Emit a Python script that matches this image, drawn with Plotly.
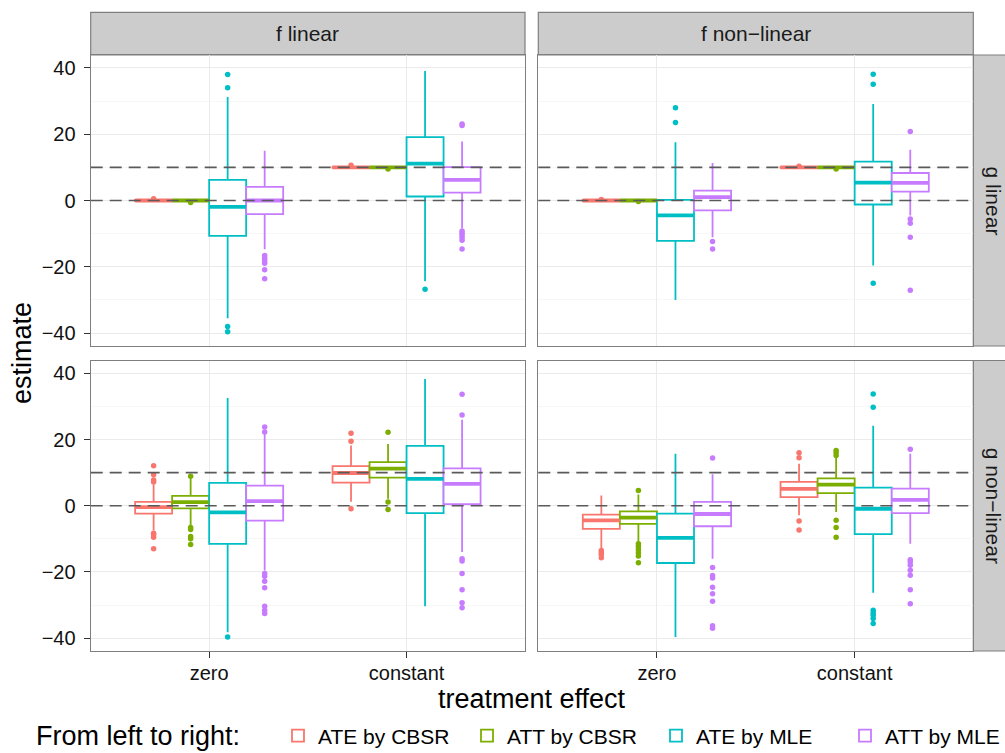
import plotly.graph_objects as go
from plotly.subplots import make_subplots

# ---- categories and labels -------------------------------------------------
EFFECTS = ["zero", "constant"]
F_LABELS = ["f linear", "f non\u2212linear"]
G_LABELS = ["g linear", "g non\u2212linear"]
ESTIMATORS = ["ATE by CBSR", "ATT by CBSR", "ATE by MLE", "ATT by MLE"]
COLORS = ["#F8766D", "#7CAE00", "#00BFC4", "#C77CFF"]
TRUE_VALUES = [0, 10]
LEGEND_TITLE = "From left to right:"

# Panels in row-major order:
#   0: g linear / f linear        1: g linear / f non-linear
#   2: g non-linear / f linear    3: g non-linear / f non-linear
# Each entry: [estimator][effect] with effect order [zero, constant]
Q1 = [
    [[-0.15, 9.85], [-0.15, 9.85], [-10.7, 1.2], [-4.1, 2.4]],
    [[-0.15, 9.85], [-0.15, 9.85], [-12.2, -1.2], [-3.0, 2.7]],
    [[-2.4, 7.0], [-0.8, 8.5], [-11.5, -2.2], [-4.5, 0.5]],
    [[-7.0, 2.6], [-5.5, 3.8], [-17.3, -8.6], [-6.2, -2.2]],
]
MEDIAN = [
    [[0.0, 10.0], [0.0, 10.0], [-1.9, 11.1], [0.0, 6.2]],
    [[0.0, 10.0], [0.0, 10.0], [-4.5, 5.4], [1.0, 5.3]],
    [[-0.4, 9.9], [1.1, 11.2], [-2.0, 8.1], [1.4, 6.6]],
    [[-4.4, 5.1], [-3.6, 6.4], [-9.7, -0.9], [-2.5, 1.8]],
]
Q3 = [
    [[0.15, 10.15], [0.15, 10.15], [6.2, 19.1], [4.1, 10.1]],
    [[0.15, 10.15], [0.15, 10.15], [0.2, 11.7], [3.0, 8.3]],
    [[1.2, 12.0], [3.0, 13.2], [6.9, 18.1], [6.1, 11.3]],
    [[-2.7, 7.2], [-1.7, 8.3], [-2.4, 5.5], [1.2, 5.2]],
]
WHISKER_LOW = [
    [[-0.4, 9.6], [-0.4, 9.6], [-35.5, -24.4], [-14.7, -8.4]],
    [[-0.4, 9.6], [-0.4, 9.6], [-30.0, -19.6], [-11.1, -4.5]],
    [[-7.5, 1.2], [-5.9, 2.1], [-38.2, -30.4], [-19.6, -14.0]],
    [[-13.0, -2.9], [-11.0, -1.9], [-39.7, -26.3], [-16.0, -11.5]],
]
WHISKER_HIGH = [
    [[0.4, 10.4], [0.4, 10.4], [31.2, 39.1], [15.0, 17.8]],
    [[0.4, 10.4], [0.4, 10.4], [17.6, 29.1], [11.3, 15.3]],
    [[6.4, 18.2], [8.4, 18.7], [32.6, 38.3], [21.8, 26.0]],
    [[3.1, 12.7], [3.4, 14.9], [15.7, 24.2], [9.5, 15.7]],
]
OUTLIERS = [
    [
        [[0.5], [10.6]],
        [[-0.6], [9.5]],
        [[38.0, 34.0, -38.0, -39.6], [-26.8]],
        [[-16.6, -17.4, -18.2, -18.9, -20.9, -23.6],
         [22.6, 23.1, -9.2, -9.8, -10.4, -11.2, -12.0, -14.6]],
    ],
    [
        [[0.3], [10.3]],
        [[-0.3], [9.5]],
        [[28.0, 23.5], [38.1, 35.1, -25.0]],
        [[-12.4, -14.6], [20.8, -5.6, -6.9, -11.1, -27.1]],
    ],
    [
        [[12.1, 9.4, 7.8, 7.2, -8.3, -8.8, -9.5, -13.0], [21.9, 19.5, -0.9]],
        [[8.9, -6.6, -7.2, -9.3, -10.0, -11.7], [22.2, 1.1, -1.1]],
        [[-39.7], []],
        [[23.8, 22.3, -20.5, -21.3, -22.8, -24.8, -30.4, -31.6, -32.6],
         [33.7, 27.4, -16.0, -16.7, -20.5, -25.4, -29.3, -30.8]],
    ],
    [
        [[-13.5, -14.1, -14.7, -15.7], [16.0, 14.5, -4.6, -7.3]],
        [[4.6, -11.5, -12.3, -13.2, -14.2, -15.2, -17.2],
         [16.7, 16.0, 15.2, -4.4, -6.6, -9.5]],
        [[], [33.8, 29.8, -31.6, -32.4, -33.1, -34.1, -35.6]],
        [[14.4, -18.7, -21.1, -21.8, -24.6, -26.6, -28.9, -36.3, -37.0],
         [17.1, -16.3, -17.0, -18.0, -19.5, -21.0, -25.4, -29.6]],
    ],
]

# ---- styling ----------------------------------------------------------------
FONT = "Liberation Sans, Arial, Helvetica, sans-serif"
BORDER = "#7F7F7F"
STRIP_FILL = "#CCCCCC"
DODGE = 0.75
BOX_W = DODGE / len(ESTIMATORS)
Y_RANGE = [-43.9, 43.9]

W, H = 1005, 753
X_DOMAINS = [[90.7 / W, 525.0 / W], [538.3 / W, 973.3 / W]]
Y_DOMAINS = [[1 - 346.0 / H, 1 - 55.0 / H], [1 - 651.0 / H, 1 - 360.5 / H]]
LEGEND_ROW_Y = 1 - 736.0 / H

fig = make_subplots(rows=2, cols=2)

for p in range(4):
    row, col = p // 2 + 1, p % 2 + 1
    for k, name in enumerate(ESTIMATORS):
        offset = (k - (len(ESTIMATORS) - 1) / 2) * BOX_W
        xs = [i + 1 + offset for i in range(len(EFFECTS))]
        color = COLORS[k]
        fig.add_trace(
            go.Box(
                x=xs,
                q1=Q1[p][k],
                median=MEDIAN[p][k],
                q3=Q3[p][k],
                lowerfence=WHISKER_LOW[p][k],
                upperfence=WHISKER_HIGH[p][k],
                width=BOX_W,
                whiskerwidth=0,
                boxpoints=False,
                fillcolor="white",
                line=dict(color=color, width=1.8),
                name=name,
                legendgroup=name,
                showlegend=(p == 0),
                hoverinfo="skip",
            ),
            row=row, col=col,
        )
        # thicker median bar
        mx, my = [], []
        for i, xc in enumerate(xs):
            mx += [xc - BOX_W / 2, xc + BOX_W / 2, None]
            my += [MEDIAN[p][k][i], MEDIAN[p][k][i], None]
        fig.add_trace(
            go.Scatter(
                x=mx, y=my, mode="lines",
                line=dict(color=color, width=3.8),
                legendgroup=name, showlegend=False, hoverinfo="skip",
            ),
            row=row, col=col,
        )
        # outlying points
        ox, oy = [], []
        for i, xc in enumerate(xs):
            for v in OUTLIERS[p][k][i]:
                ox.append(xc)
                oy.append(v)
        fig.add_trace(
            go.Scatter(
                x=ox, y=oy, mode="markers",
                marker=dict(color=color, size=5.5, line=dict(width=0)),
                legendgroup=name, showlegend=False, hoverinfo="skip",
            ),
            row=row, col=col,
        )
    # reference lines at the true effects
    for v in TRUE_VALUES:
        fig.add_hline(
            y=v, row=row, col=col,
            line=dict(color="#5A5A5A", width=1.7, dash="12px,7px"),
            layer="above",
        )

# ---- axes -------------------------------------------------------------------
for p in range(4):
    r, c = p // 2, p % 2
    suffix = "" if p == 0 else str(p + 1)
    bottom = r == 1
    left = c == 0
    fig.layout["xaxis" + suffix].update(
        domain=X_DOMAINS[c],
        range=[0.4, 2.6],
        tickmode="array",
        tickvals=[1, 2],
        ticktext=EFFECTS,
        showticklabels=bottom,
        ticks="outside" if bottom else "",
        ticklen=6, tickwidth=1, tickcolor="#333333",
        ticklabelstandoff=-2,
        tickfont=dict(family=FONT, size=20, color="#111111"),
        showgrid=True, gridcolor="#EBEBEB", gridwidth=1.2,
        zeroline=False,
        showline=True, mirror=True, linecolor=BORDER, linewidth=1.2,
    )
    fig.layout["yaxis" + suffix].update(
        domain=Y_DOMAINS[r],
        range=Y_RANGE,
        tickmode="array",
        tickvals=[-40, -20, 0, 20, 40],
        showticklabels=left,
        ticks="outside" if left else "",
        ticklen=6, tickwidth=1, tickcolor="#333333",
        ticklabelstandoff=4,
        tickfont=dict(family=FONT, size=20, color="#111111"),
        showgrid=True, gridcolor="#EBEBEB", gridwidth=1.2,
        minor=dict(tickmode="linear", tick0=0, dtick=10, showgrid=True,
                   gridcolor="#F7F7F7", gridwidth=1, ticks=""),
        zeroline=False,
        showline=True, mirror=True, linecolor=BORDER, linewidth=1.2,
    )

# ---- facet strips -----------------------------------------------------------
shapes = list(fig.layout.shapes)
annotations = []
strip_top = [1 - 55.0 / H, 1 - 12.3 / H]
for c, label in enumerate(F_LABELS):
    shapes.append(dict(
        type="rect", xref="paper", yref="paper",
        x0=X_DOMAINS[c][0], x1=X_DOMAINS[c][1],
        y0=strip_top[0], y1=strip_top[1],
        fillcolor=STRIP_FILL, line=dict(color=BORDER, width=1.2), layer="below",
    ))
    annotations.append(dict(
        text=label, xref="paper", yref="paper",
        x=sum(X_DOMAINS[c]) / 2, y=sum(strip_top) / 2,
        xanchor="center", yanchor="middle", showarrow=False,
        font=dict(family=FONT, size=21, color="#1A1A1A"),
    ))
strip_right = [973.3 / W, 1.05]
for r, label in enumerate(G_LABELS):
    shapes.append(dict(
        type="rect", xref="paper", yref="paper",
        x0=strip_right[0], x1=strip_right[1],
        y0=Y_DOMAINS[r][0], y1=Y_DOMAINS[r][1],
        fillcolor=STRIP_FILL, line=dict(color=BORDER, width=1.2), layer="below",
    ))
    annotations.append(dict(
        text=label, xref="paper", yref="paper",
        x=993.0 / W, y=sum(Y_DOMAINS[r]) / 2,
        xanchor="center", yanchor="middle", showarrow=False, textangle=90,
        font=dict(family=FONT, size=21, color="#1A1A1A"),
    ))

# ---- axis titles and legend heading ----------------------------------------
annotations.append(dict(
    text="treatment effect", xref="paper", yref="paper",
    x=532.0 / W, y=1 - 699.0 / H, xanchor="center", yanchor="middle",
    showarrow=False, font=dict(family=FONT, size=27, color="#000000"),
))
annotations.append(dict(
    text="estimate", xref="paper", yref="paper",
    x=22.0 / W, y=1 - 353.0 / H, xanchor="center", yanchor="middle",
    showarrow=False, textangle=-90,
    font=dict(family=FONT, size=27, color="#000000"),
))
annotations.append(dict(
    text=LEGEND_TITLE, xref="paper", yref="paper",
    x=34.0 / W, y=LEGEND_ROW_Y, xanchor="left", yanchor="middle",
    showarrow=False, font=dict(family=FONT, size=27, color="#000000"),
))

fig.update_layout(
    width=W, height=H,
    margin=dict(l=0, r=0, t=0, b=0, autoexpand=False),
    paper_bgcolor="white", plot_bgcolor="white",
    boxmode="overlay",
    shapes=shapes,
    annotations=annotations,
    legend=dict(
        orientation="h",
        x=278.0 / W, xanchor="left",
        y=LEGEND_ROW_Y, yanchor="middle",
        font=dict(family=FONT, size=21, color="#000000"),
        itemwidth=30,
        entrywidth=144, entrywidthmode="pixels",
        bgcolor="rgba(0,0,0,0)",
    ),
)

fig.write_html("out.html")
